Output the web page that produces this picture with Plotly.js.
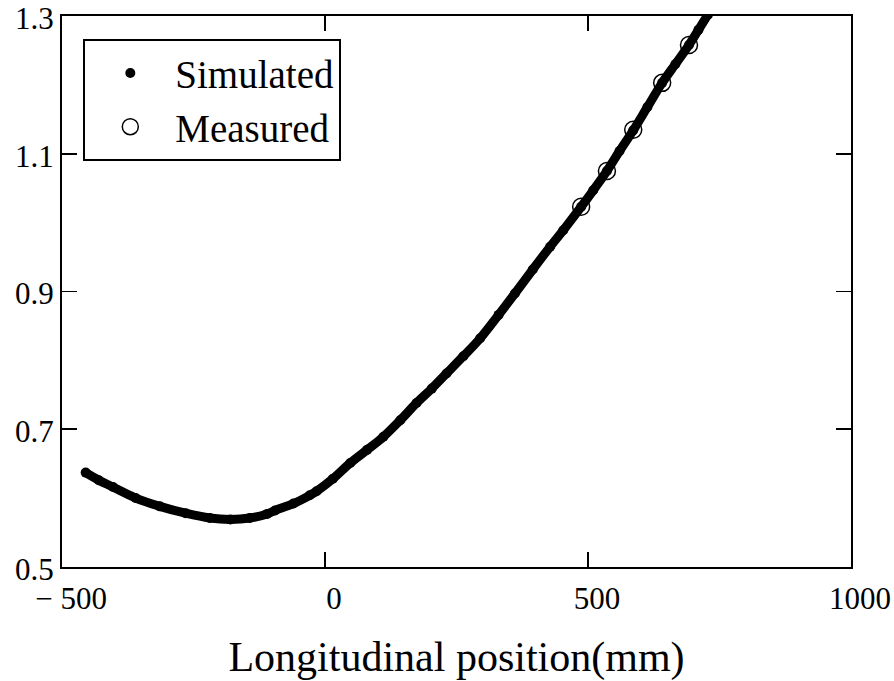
<!DOCTYPE html>
<html>
<head>
<meta charset="utf-8">
<script src="https://cdn.plot.ly/plotly-3.0.1.min.js"></script>
<style>html,body{margin:0;padding:0;background:#fff;} #chart{width:894px;height:681px;}</style>
</head>
<body>
<div id="chart"></div>
<script>
// Simulated (dense dotted curve)
const simX = [-455, -430, -403, -360, -314, -265, -219, -180, -143, -110, -95, -60, -29, -16, 15, 48, 80, 111, 143, 174, 203, 231, 263, 295, 330, 361, 395, 428, 453, 487, 510, 536, 560, 586, 613, 641, 666, 692, 710, 728];
const simY = [0.637, 0.626, 0.616, 0.600, 0.588, 0.578, 0.571, 0.569, 0.571, 0.577, 0.582, 0.592, 0.604, 0.610, 0.628, 0.651, 0.670, 0.689, 0.713, 0.738, 0.759, 0.781, 0.806, 0.832, 0.866, 0.897, 0.932, 0.965, 0.989, 1.023, 1.047, 1.075, 1.104, 1.134, 1.168, 1.203, 1.230, 1.258, 1.280, 1.302];
// Measured
const measX = [487, 536, 586, 641, 692];
const measY = [1.023, 1.075, 1.135, 1.203, 1.258];
// Tick labels
const xTickVals = [-500, 0, 500, 1000];
const xTickText = ['\u2212 500', '0', '500', '1000'];
const yTickVals = [0.5, 0.7, 0.9, 1.1, 1.3];
const yTickText = ['0.5', '0.7', '0.9', '1.1', '1.3'];
const seriesNames = ['Simulated', 'Measured'];
const xTitle = 'Longitudinal position(mm)';

const font = 'Liberation Serif, Times New Roman, serif';

const traces = [
  {
    x: simX, y: simY, name: seriesNames[0], type: 'scatter', mode: 'lines',
    line: {color: '#000', width: 9, shape: 'spline'}, showlegend: false, hoverinfo: 'skip'
  },
  {
    x: simX, y: simY, name: seriesNames[0], type: 'scatter', mode: 'markers',
    marker: {color: '#000', size: 10, symbol: 'circle'}
  },
  {
    x: measX, y: measY, name: seriesNames[1], type: 'scatter', mode: 'markers',
    marker: {color: '#000', size: 17, symbol: 'circle-open', line: {color: '#000', width: 1.5}}
  }
];

const axisCommon = {
  showgrid: false, zeroline: false, showline: true, linecolor: '#000', linewidth: 2,
  mirror: 'ticks', ticks: 'inside', ticklen: 15, tickwidth: 1.5, tickcolor: '#000',
  tickfont: {family: font, size: 31, color: '#000'}, tickmode: 'array',
  ticklabeloverflow: 'allow'
};

const layout = {
  width: 894, height: 681,
  margin: {l: 62, r: 43, t: 16, b: 114, autoexpand: false},
  paper_bgcolor: '#fff', plot_bgcolor: '#fff',
  font: {family: font, color: '#000'},
  xaxis: Object.assign({}, axisCommon, {
    range: [-500.01, 1000.01], tickvals: xTickVals, ticktext: xTickText,
    ticklabelshift: 9, ticklabelstandoff: 3, automargin: true,
    title: {text: xTitle, font: {family: font, size: 42, color: '#000'}, standoff: 75}
  }),
  yaxis: Object.assign({}, axisCommon, {
    range: [0.4999, 1.3001], tickvals: yTickVals, ticktext: yTickText,
    ticklabelshift: 2, automargin: false
  }),
  showlegend: true,
  legend: {
    x: 0.027, y: 0.958, xanchor: 'left', yanchor: 'top',
    bgcolor: '#fff', bordercolor: '#000', borderwidth: 2,
    font: {family: font, size: 39, color: '#000'},
    itemwidth: 80, tracegroupgap: 0
  }
};

Plotly.newPlot('chart', traces, layout, {displayModeBar: false, staticPlot: true});
</script>
</body>
</html>
